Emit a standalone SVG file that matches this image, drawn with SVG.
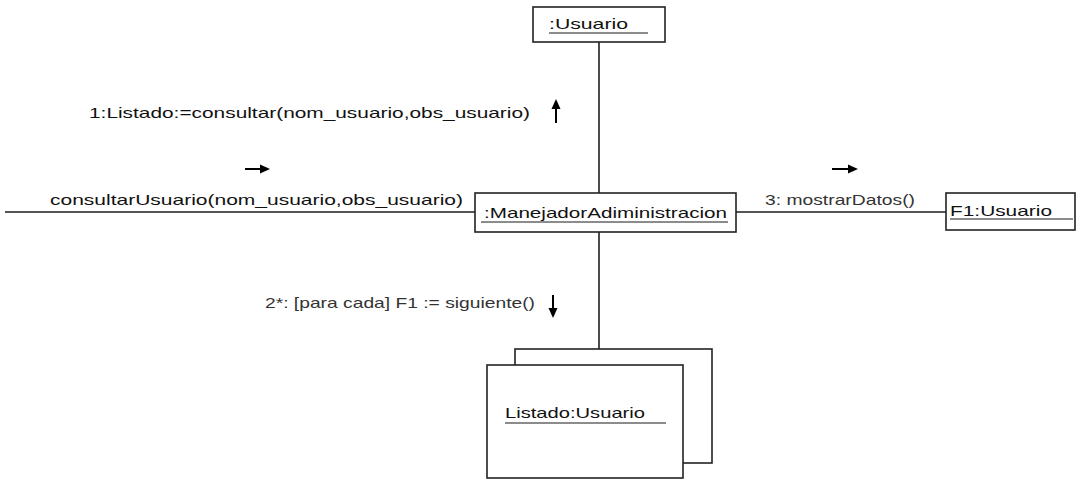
<svg xmlns="http://www.w3.org/2000/svg" width="1078" height="481" viewBox="0 0 1078 481">
<style>
.box{fill:#fff;stroke:#222;stroke-width:1.6}
.ln{stroke:#555;stroke-width:2;fill:none}
.vl{stroke:#111;stroke-width:1.5;fill:none}
.ul{stroke:#666;stroke-width:1.5}
.t{font-family:"Liberation Sans",Arial,sans-serif;font-size:15px;fill:#111}
.ar{stroke:#000;stroke-width:2}
.ah{fill:#000}
</style>
<rect width="1078" height="481" fill="#fff"/>
<g id="connectors">
<line class="vl" x1="599" y1="42" x2="599" y2="193"/>
<line class="vl" x1="599" y1="232" x2="599" y2="349"/>
<line class="ln" x1="5" y1="212" x2="475" y2="212"/>
<line class="ln" x1="736" y1="212" x2="946" y2="212"/>
<text class="t" x="89" y="118" textLength="441" lengthAdjust="spacingAndGlyphs">1:Listado:=consultar(nom_usuario,obs_usuario)</text>
<line class="ar" x1="556" y1="123" x2="556" y2="106"/>
<polygon class="ah" points="556,99 551.5,109 560.5,109"/>
<text class="t" x="50" y="205" textLength="413" lengthAdjust="spacingAndGlyphs">consultarUsuario(nom_usuario,obs_usuario)</text>
<line class="ar" x1="245" y1="169" x2="262" y2="169"/>
<polygon class="ah" points="270,169 260,164.5 260,173.5"/>
<text class="t" x="765" y="205" textLength="150" lengthAdjust="spacingAndGlyphs" style="fill:#333">3: mostrarDatos()</text>
<line class="ar" x1="832" y1="169" x2="850" y2="169"/>
<polygon class="ah" points="858,169 848,164.5 848,173.5"/>
<text class="t" x="265" y="308" textLength="270" lengthAdjust="spacingAndGlyphs" style="fill:#333">2*: [para cada] F1 := siguiente()</text>
<line class="ar" x1="553" y1="295" x2="553" y2="310"/>
<polygon class="ah" points="553,318 548.5,308 557.5,308"/>
</g>
<g id="usuario">
<rect class="box" x="533" y="7" width="132" height="35"/>
<text class="t" x="549" y="29" textLength="79" lengthAdjust="spacingAndGlyphs">:Usuario</text>
<line class="ul" x1="549" y1="33" x2="648" y2="33"/>
</g>
<g id="manejador">
<rect class="box" x="475" y="193" width="261" height="39"/>
<text class="t" x="484" y="218" textLength="243" lengthAdjust="spacingAndGlyphs">:ManejadorAdiministracion</text>
<line class="ul" x1="481" y1="222" x2="728" y2="222"/>
</g>
<g id="f1usuario">
<rect class="box" x="946" y="193" width="129" height="37"/>
<text class="t" x="950" y="216" textLength="102" lengthAdjust="spacingAndGlyphs">F1:Usuario</text>
<line class="ul" x1="950" y1="219" x2="1073" y2="219"/>
</g>
<g id="listado">
<rect class="box" x="515" y="349" width="197" height="114"/>
<rect class="box" x="487" y="365" width="196" height="113"/>
<text class="t" x="505" y="418" textLength="140" lengthAdjust="spacingAndGlyphs">Listado:Usuario</text>
<line class="ul" x1="505" y1="423" x2="666" y2="423"/>
</g>
</svg>
